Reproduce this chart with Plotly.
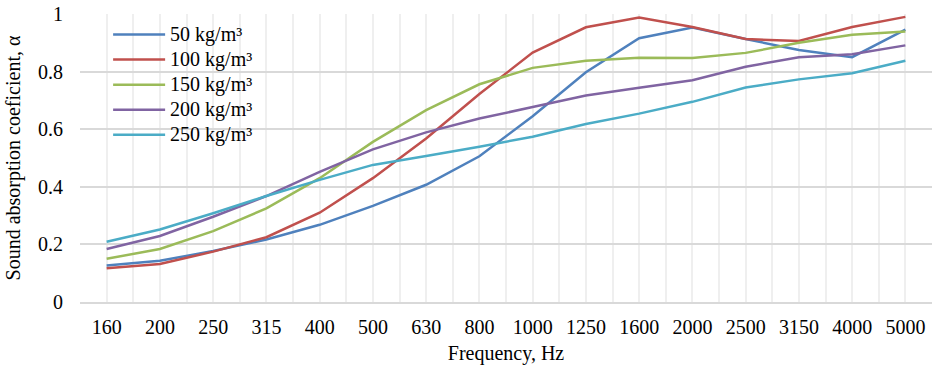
import plotly.graph_objects as go

# One-third octave band centre frequencies (Hz)
frequencies = ["160", "200", "250", "315", "400", "500", "630", "800", "1000",
               "1250", "1600", "2000", "2500", "3150", "4000", "5000"]

# Sound absorption coefficient for each density
alpha_50 = [0.127, 0.143, 0.177, 0.217, 0.268, 0.334, 0.407, 0.506, 0.645,
            0.798, 0.916, 0.953, 0.913, 0.875, 0.850, 0.946]
alpha_100 = [0.117, 0.132, 0.175, 0.225, 0.310, 0.430, 0.568, 0.722, 0.866,
             0.954, 0.988, 0.955, 0.913, 0.906, 0.955, 0.990]
alpha_150 = [0.150, 0.184, 0.246, 0.325, 0.430, 0.556, 0.666, 0.756, 0.813,
             0.838, 0.848, 0.847, 0.865, 0.900, 0.928, 0.939]
alpha_200 = [0.184, 0.229, 0.296, 0.368, 0.452, 0.530, 0.589, 0.637, 0.677,
             0.717, 0.744, 0.770, 0.817, 0.850, 0.860, 0.891]
alpha_250 = [0.209, 0.252, 0.308, 0.368, 0.424, 0.476, 0.507, 0.539, 0.574,
             0.618, 0.654, 0.695, 0.745, 0.773, 0.794, 0.838]

series_names = ["50 kg/m³", "100 kg/m³", "150 kg/m³", "200 kg/m³", "250 kg/m³"]
series_values = [alpha_50, alpha_100, alpha_150, alpha_200, alpha_250]
series_colors = ["#4F81BD", "#C0504D", "#9BBB59", "#8064A2", "#4BACC6"]

FONT = "Liberation Serif"
positions = list(range(len(frequencies)))

fig = go.Figure()
for name, vals, color in zip(series_names, series_values, series_colors):
    fig.add_trace(go.Scatter(
        x=positions, y=vals, mode="lines",
        # larger glyphs than the legend's row pitch, for a compact legend
        name=f'<span style="font-size:20px">{name}</span>',
        line=dict(color=color, width=2.5),
    ))

fig.update_layout(
    width=934, height=370,
    margin=dict(l=80, r=2, t=14, b=68),
    paper_bgcolor="white", plot_bgcolor="white",
    font=dict(family=FONT, size=20, color="black"),
    showlegend=True,
    legend=dict(
        x=0.033, y=0.99, xanchor="left", yanchor="top",
        bgcolor="rgba(255,255,255,0)", itemwidth=52,
        tracegroupgap=0, font=dict(family=FONT, size=17, color="black"),
    ),
    xaxis=dict(
        range=[-0.5, len(frequencies) - 0.5],
        tickmode="array", tickvals=positions, ticktext=frequencies,
        tickfont=dict(family=FONT, size=20, color="black"),
        ticklabelstandoff=6,
        showgrid=True, gridcolor="#EFEFEF", gridwidth=1.5,
        minor=dict(tick0=-0.5, dtick=1, showgrid=True,
                   gridcolor="#EFEFEF", gridwidth=1.5),
        showline=True, linecolor="#D9D9D9", linewidth=1.5,
        zeroline=False, ticks="",
        title=dict(text="Frequency, Hz", standoff=9,
                   font=dict(family=FONT, size=20, color="black")),
    ),
    yaxis=dict(
        range=[0, 1], dtick=0.2, tickformat="~g",
        tickfont=dict(family=FONT, size=20, color="black"),
        ticklabelstandoff=16,
        showgrid=True, gridcolor="#D9D9D9", gridwidth=1.5,
        zeroline=False, showline=False, ticks="",
        title=dict(text="Sound absorption coeficient, α", standoff=12,
                   font=dict(family=FONT, size=20, color="black")),
    ),
)

fig.write_html("out.html")
